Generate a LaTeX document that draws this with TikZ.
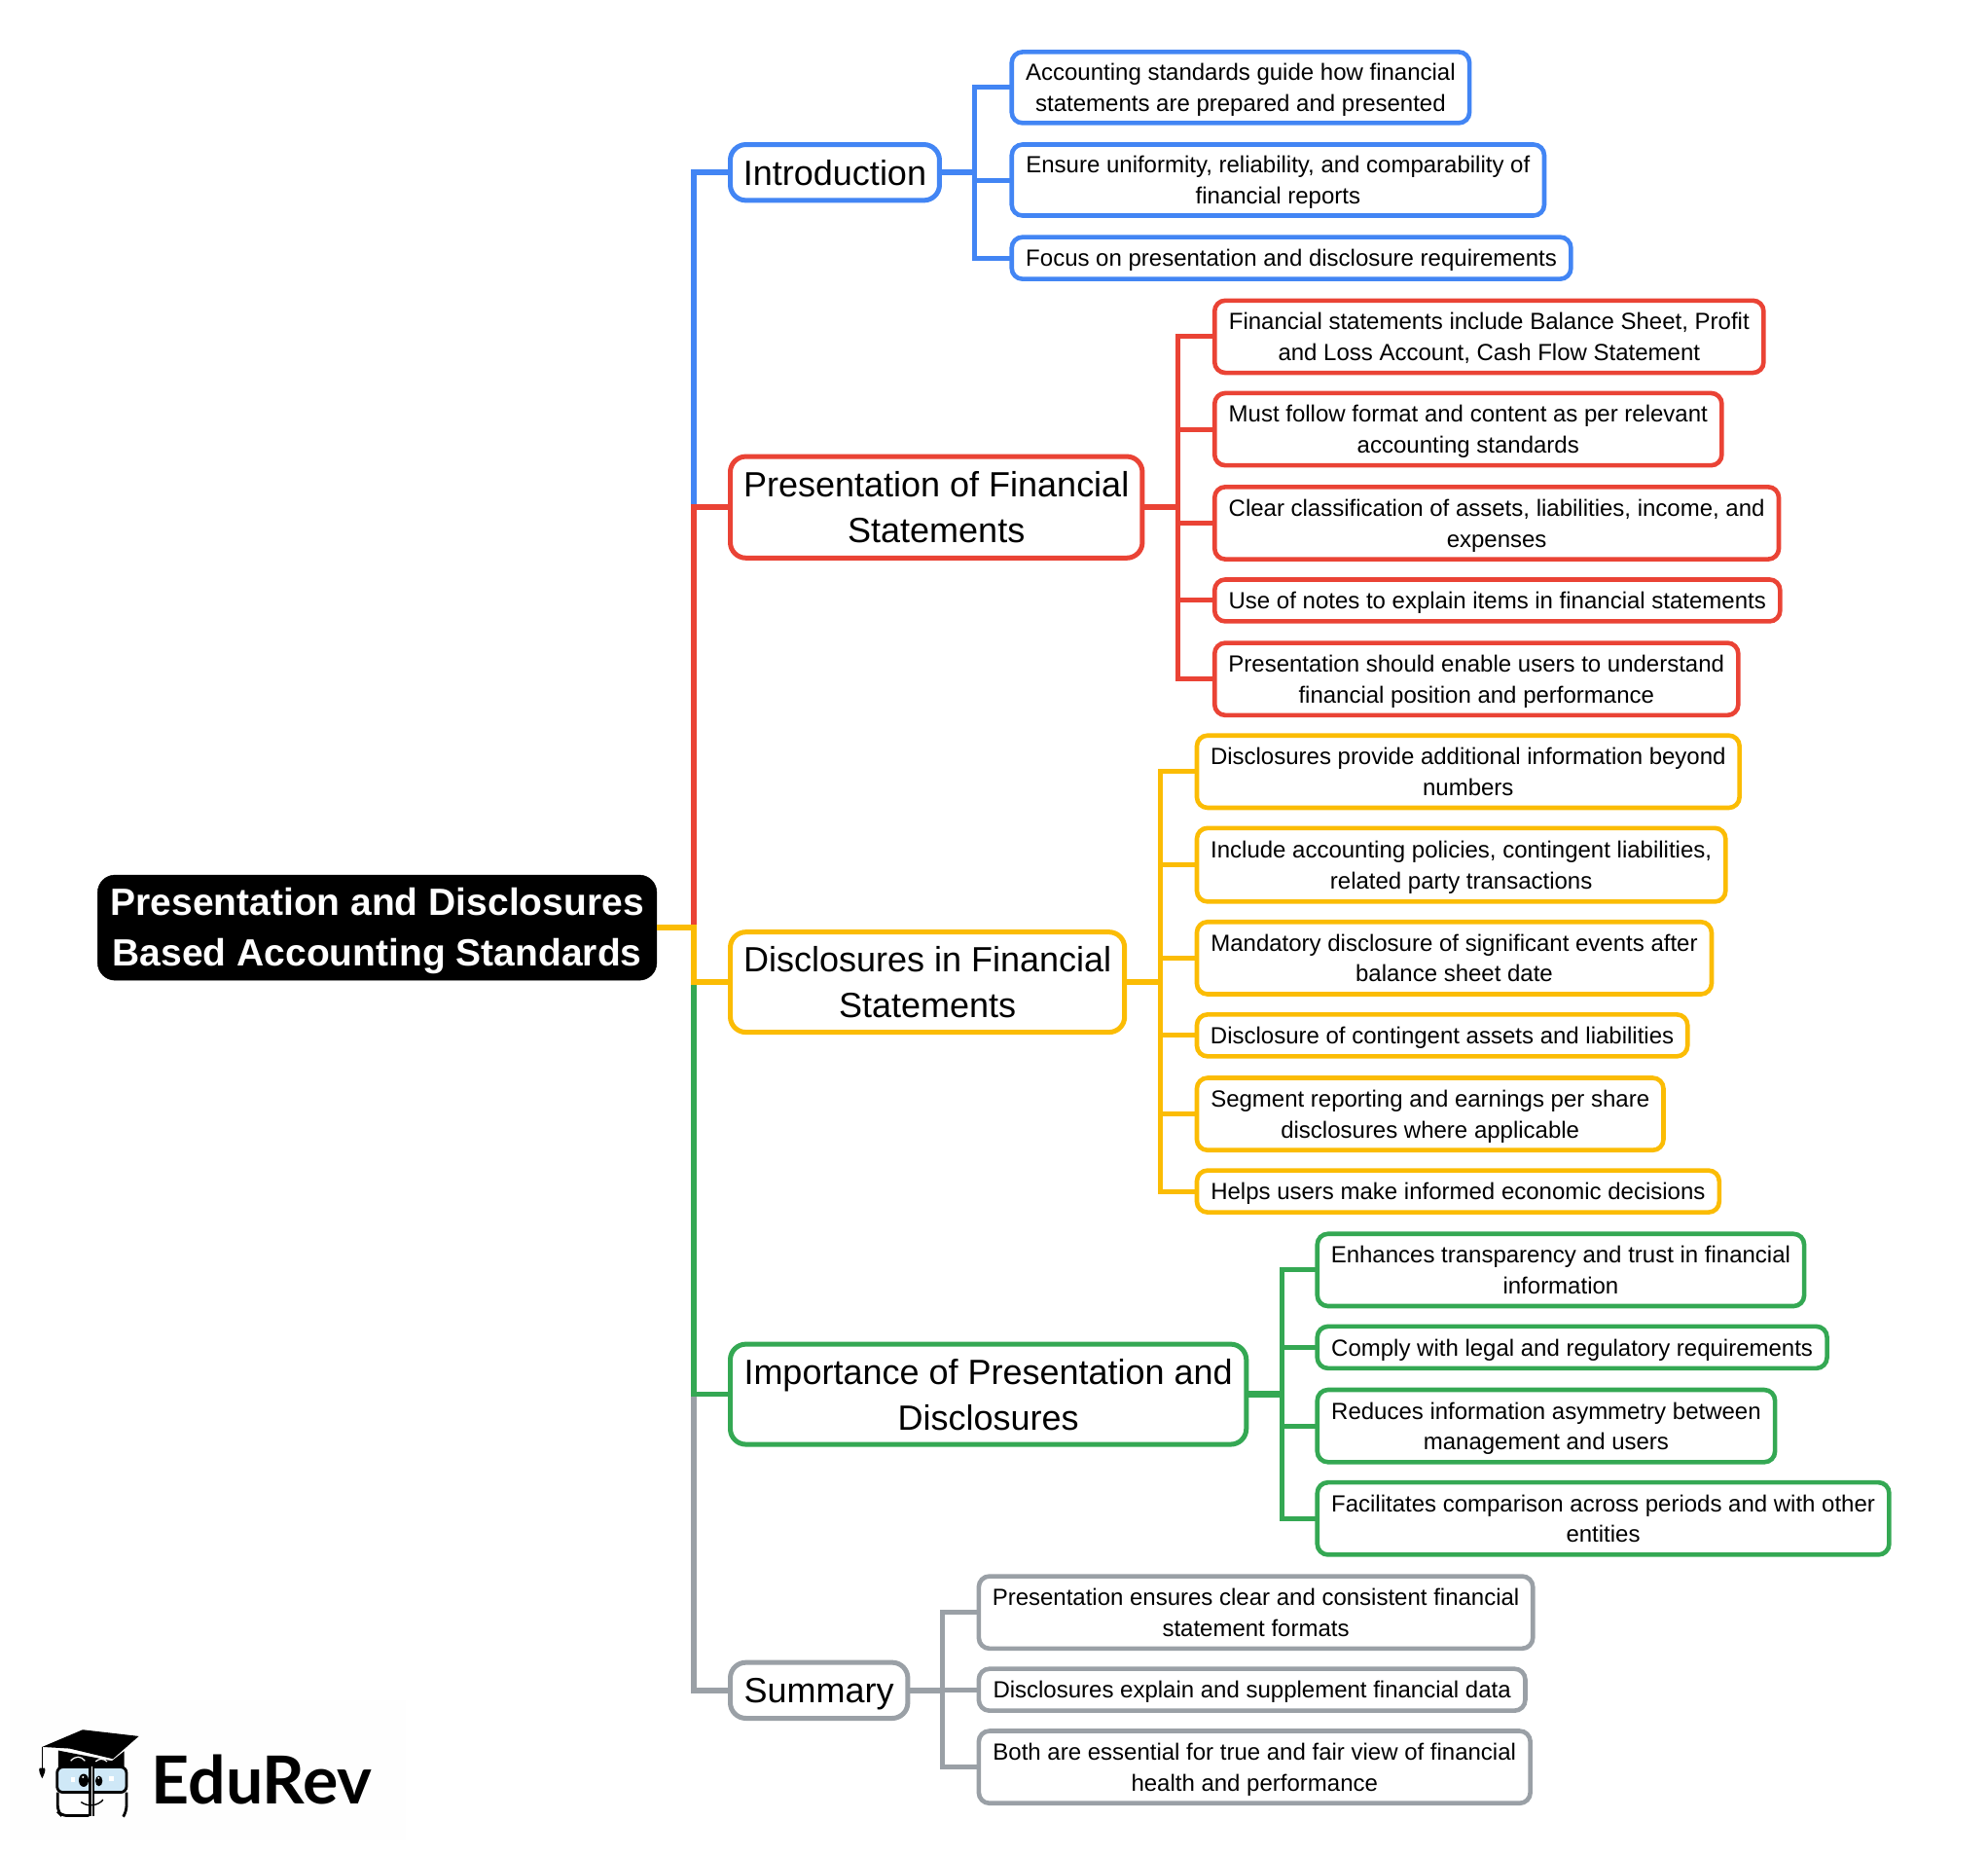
\documentclass[tikz,border=0pt]{standalone}
\usepackage{fontspec}
\setmainfont{Liberation Sans}
\newfontfamily\logofont{Lato}
\definecolor{cblue}{HTML}{4285F4}
\definecolor{cred}{HTML}{EA4335}
\definecolor{cyellow}{HTML}{FBBC04}
\definecolor{cgreen}{HTML}{34A853}
\definecolor{cgray}{HTML}{9AA0A6}
\definecolor{cglass}{HTML}{CFE8F7}
\tikzset{
  allbox/.style={draw,fill=white,inner sep=0pt,outer sep=0pt,align=center,text=black},
  leaf/.style={allbox,draw=#1,line width=4.6pt,rounded corners=11pt,font=\fontsize{24}{31.7}\selectfont},
  topic/.style={allbox,draw=#1,line width=5pt,rounded corners=16pt,font=\fontsize{36}{47}\selectfont},
  rootbox/.style={fill=black,draw=black,text=white,inner sep=0pt,outer sep=0pt,align=center,rounded corners=18pt,font=\fontsize{39}{52}\selectfont\bfseries},
  wire/.style={draw=#1,line width=5pt,line join=miter},
  fatwire/.style={draw=#1,line width=6.5pt,line join=miter},
  trunkwire/.style={draw=#1,line width=5.6pt,line join=miter},
}
\newcommand{\bxraw}[7]{%
  \pgfmathsetmacro{\bxw}{(#4-#3)*1.303}%
  \pgfmathsetmacro{\bxh}{(#6-#5)*1.303}%
  \pgfmathsetmacro{\bxcx}{(#3+#4)/2}%
  \pgfmathsetmacro{\bxcy}{(#5+#6)/2}%
  \node[#2,minimum width=\bxw pt,minimum height=\bxh pt] (#1) at (\bxcx,\bxcy) {#7};%
}
\newcommand{\bx}[7]{\bxraw{#1}{#2}{#3}{#4}{#5}{#6}{\rule{0pt}{\dimexpr\ht\strutbox+0.2em\relax}#7\strut}}
\begin{document}
\begin{tikzpicture}[x=1.303pt,y=-1.303pt]
\useasboundingbox[fill=white] (0,0) rectangle (1568,1463);
% logo backdrop
\fill[white!99.5!black] (8,1341) rectangle (320,1451);
% boxes
\bxraw{root}{rootbox}{77}{518}{690}{773}{\rule{0pt}{36pt}Presentation and Disclosures\\Based Accounting Standards\rule[-8pt]{0pt}{8pt}}
\bx{intro}{topic=cblue}{576}{741}{114}{158}{Introduction}
\bx{pres}{topic=cred}{576}{901}{360}{440}{Presentation of Financial\\Statements}
\bx{disc}{topic=cyellow}{576}{887}{735}{814}{Disclosures in Financial\\Statements}
\bx{impo}{topic=cgreen}{576}{983}{1060}{1139}{Importance of Presentation and\\Disclosures}
\bx{summ}{topic=cgray}{576}{716}{1311}{1355}{Summary}
% intro leaves
\bx{a1}{leaf=cblue}{798}{1159}{41}{97}{Accounting standards guide how financial\\statements are prepared and presented}
\bx{a2}{leaf=cblue}{798}{1218}{114}{170}{Ensure uniformity, reliability, and comparability of\\financial reports}
\bx{a3}{leaf=cblue}{798}{1239}{187}{220}{Focus on presentation and disclosure requirements}
% presentation leaves
\bx{b1}{leaf=cred}{958}{1391}{237}{294}{Financial statements include Balance Sheet, Profit\\and Loss Account, Cash Flow Statement}
\bx{b2}{leaf=cred}{958}{1358}{310}{367}{Must follow format and content as per relevant\\accounting standards}
\bx{b3}{leaf=cred}{958}{1403}{384}{441}{Clear classification of assets, liabilities, income, and\\expenses}
\bx{b4}{leaf=cred}{958}{1404}{457}{490}{Use of notes to explain items in financial statements}
\bx{b5}{leaf=cred}{958}{1371}{507}{564}{Presentation should enable users to understand\\financial position and performance}
% disclosures leaves
\bx{c1}{leaf=cyellow}{944}{1372}{580}{637}{Disclosures provide additional information beyond\\numbers}
\bx{c2}{leaf=cyellow}{944}{1361}{653}{711}{Include accounting policies, contingent liabilities,\\related party transactions}
\bx{c3}{leaf=cyellow}{944}{1350}{727}{784}{Mandatory disclosure of significant events after\\balance sheet date}
\bx{c4}{leaf=cyellow}{944}{1331}{800}{833}{Disclosure of contingent assets and liabilities}
\bx{c5}{leaf=cyellow}{944}{1312}{850}{907}{Segment reporting and earnings per share\\disclosures where applicable}
\bx{c6}{leaf=cyellow}{944}{1356}{923}{956}{Helps users make informed economic decisions}
% importance leaves
\bx{d1}{leaf=cgreen}{1039}{1423}{973}{1030}{Enhances transparency and trust in financial\\information}
\bx{d2}{leaf=cgreen}{1039}{1441}{1046}{1079}{Comply with legal and regulatory requirements}
\bx{d3}{leaf=cgreen}{1039}{1400}{1096}{1153}{Reduces information asymmetry between\\management and users}
\bx{d4}{leaf=cgreen}{1039}{1490}{1169}{1226}{Facilitates comparison across periods and with other\\entities}
% summary leaves
\bx{e1}{leaf=cgray}{772}{1209}{1243}{1300}{Presentation ensures clear and consistent financial\\statement formats}
\bx{e2}{leaf=cgray}{772}{1203}{1316}{1349}{Disclosures explain and supplement financial data}
\bx{e3}{leaf=cgray}{772}{1207}{1365}{1422}{Both are essential for true and fair view of financial\\health and performance}
% trunk
\coordinate (tx) at (547,0);
\coordinate (tr) at (tx |- root.east);
\coordinate (trp) at (tx |- pres.west);
\coordinate (trd) at (tx |- disc.west);
\coordinate (tri) at (tx |- impo.west);
\draw[trunkwire=cgray] (tri) |- (summ.west);
\draw[trunkwire=cgreen] (trd) |- (impo.west);
\draw[trunkwire=cblue] (trp) |- (intro.west);
\draw[trunkwire=cred] (tr) |- (pres.west);
\draw[trunkwire=cyellow] (root.east) -- (tr) |- (disc.west);
% branch spines
\coordinate (sa) at (769,0 |- intro.east);
\coordinate (sb) at (929,0 |- pres.east);
\coordinate (sc) at (915,0 |- disc.east);
\coordinate (sd) at (1011,0 |- impo.east);
\coordinate (se) at (743,0 |- summ.east);
\foreach \c in {a1,a2,a3} \draw[wire=cblue] (sa) |- (\c.west);
\foreach \c in {b1,b2,b3,b4,b5} \draw[wire=cred] (sb) |- (\c.west);
\foreach \c in {c1,c2,c3,c4,c5,c6} \draw[wire=cyellow] (sc) |- (\c.west);
\foreach \c in {d1,d2,d3,d4} \draw[wire=cgreen] (sd) |- (\c.west);
\foreach \c in {e1,e2,e3} \draw[wire=cgray] (se) |- (\c.west);
\draw[fatwire=cblue] (intro.east) -- (sa);
\draw[fatwire=cred] (pres.east) -- (sb);
\draw[fatwire=cyellow] (disc.east) -- (sc);
\draw[fatwire=cgreen] (impo.east) -- (sd);
\draw[fatwire=cgray] (summ.east) -- (se);
% logo
\begin{scope}[shift={(0,1304.68)},x=0.3333pt,y=-0.3333pt]
  \node[anchor=base west,inner sep=0pt,text=black,font=\fontsize{68}{68}\selectfont\logofont\bfseries] (brand) at (466,460) {EduRev};
  % cap
  \fill[black] (130,285) -- (255,232) -- (428,252) -- (348,322) -- (215,290) -- cycle;
  \fill[black] (180,296) -- (345,328) -- (383,298) -- (383,350) -- (180,350) -- cycle;
  \draw[white,line width=1.2pt] (218,328) .. controls (232,312) and (250,312) .. (262,328);
  \draw[white,line width=1.2pt] (295,330) .. controls (305,320) and (320,320) .. (330,330);
  % tassel
  \draw[black,line width=1.2pt] (130,285) -- (130,350);
  \fill[black] (130,382) .. controls (124,370) and (118,358) .. (122,350) -- (138,350) .. controls (142,358) and (136,370) .. (130,382) -- cycle;
  % glasses
  \draw[black,fill=cglass,line width=2.8pt,rounded corners=6pt] (176,347) rectangle (390,425);
  % lower face
  \draw[black,line width=2.8pt,rounded corners=6pt] (274,497) -- (190,497) -- (178,485) -- (178,425);
  \draw[black,line width=2.8pt,rounded corners=6pt] (390,425) -- (390,485) -- (382,497);
  % centre split
  \fill[black] (274,340) rectangle (292,498);
  \fill[white] (281,345) rectangle (285,498);
  % eyes
  \fill[black] (258,388) ellipse [x radius=15,y radius=20];
  \fill[black] (305,390) ellipse [x radius=11,y radius=16];
  \fill[white] (256,378) circle (3.5);
  \fill[white] (304,381) circle (3);
  \fill[white] (218,378) rectangle (232,392);
  \fill[white] (335,376) rectangle (350,390);
  % smile
  \draw[black,line width=1.4pt] (250,455) .. controls (270,470) and (300,468) .. (318,448);
\end{scope}
\end{tikzpicture}
\end{document}
